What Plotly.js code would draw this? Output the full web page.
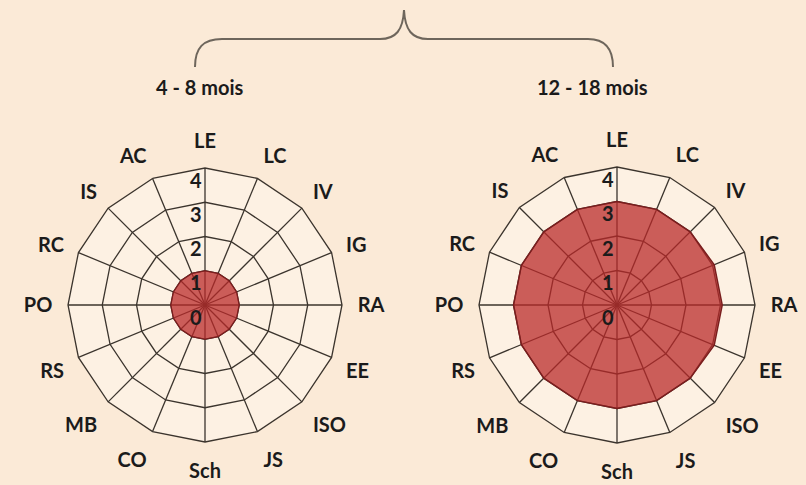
<!DOCTYPE html>
<html>
<head>
<meta charset="utf-8">
<script src="https://cdn.plot.ly/plotly-3.0.1.min.js"></script>
<style>html,body{margin:0;padding:0;background:#fbead7;}#chart{width:806px;height:485px;}</style>
</head>
<body>
<div id="chart"></div>
<script>
// Categories (clockwise from top)
const categories = ["LE","LC","IV","IG","RA","EE","ISO","JS","Sch","CO","MB","RS","PO","RC","IS","AC"];
// Scores 4 - 8 mois
const values_4_8 = [1,1,1,1,1,1,1,1,1,1,1,1,1,1,1,1];
// Scores 12 - 18 mois
const values_12_18 = [3,3,3,3.05,3.05,3.05,3,3,3,3,3,3,3,3,3,3];
const radialTicks = [0,1,2,3,4];
const groupLabels = ["4 - 8 mois", "12 - 18 mois"];

const W = 806, H = 485;
const px = x => x / W;
const py = y => 1 - y / H;

function closed(a){ return a.concat([a[0]]); }

const fillColor = 'rgba(185,40,40,0.74)';
const lineColor = '#7a1e1e';
const gridColor = '#3b342d';
const font = {family: 'Lato, "Open Sans", sans-serif', size: 20, color: '#1b1b1b', weight: 'bold'};
const tickFont = {family: 'Lato, "Open Sans", sans-serif', size: 20, color: '#1b1b1b', weight: 'bold'};

const traces = [
  {type:'scatterpolar', r: closed(values_4_8), theta: closed(categories), fill:'toself',
   fillcolor: fillColor, mode:'lines', line:{color:lineColor, width:1.2}, subplot:'polar', hoverinfo:'skip'},
  {type:'scatterpolar', r: closed(values_12_18), theta: closed(categories), fill:'toself',
   fillcolor: fillColor, mode:'lines', line:{color:lineColor, width:1.5}, subplot:'polar2', hoverinfo:'skip'}
];

function polarCfg(domain){
  return {
    domain: domain,
    bgcolor: '#fdf1e3',
    gridshape: 'linear',
    radialaxis: {
      range: [0,4], tickvals: radialTicks, ticktext: radialTicks.map(v => '<br>' + v),
      angle: 90, side: 'counterclockwise', showline: false, ticks: '',
      gridcolor: gridColor, gridwidth: 1.3, tickfont: tickFont, tickangle: 90
    },
    angularaxis: {
      categoryorder: 'array', categoryarray: categories,
      direction: 'clockwise', rotation: 90,
      showline: true, linecolor: gridColor, linewidth: 1.3,
      gridcolor: gridColor, gridwidth: 1.3,
      ticks: 'outside', ticklen: 11, tickcolor: 'rgba(0,0,0,0)',
      tickfont: font
    }
  };
}

const braceColor = '#6e665c';
const bracePath = [
  'M', px(195), py(67),
  'C', px(195), py(48), px(203), py(39), px(222), py(39),
  'L', px(380), py(39),
  'C', px(396), py(39), px(403), py(30), px(404), py(10),
  'C', px(405), py(30), px(412), py(39), px(428), py(39),
  'L', px(588), py(39),
  'C', px(605), py(39), px(613), py(48), px(613), py(67)
].join(' ');

const layout = {
  width: W, height: H,
  margin: {l:0, r:0, t:0, b:0},
  paper_bgcolor: '#fbead7',
  showlegend: false,
  polar: polarCfg({x:[px(68), px(342)], y:[py(442), py(168)]}),
  polar2: polarCfg({x:[px(479), px(755)], y:[py(443), py(167)]}),
  shapes: [{type:'path', xref:'paper', yref:'paper', path: bracePath,
            line:{color: braceColor, width: 2}}],
  annotations: [
    {text: groupLabels[0], xref:'paper', yref:'paper', x: px(200), y: py(87),
     showarrow:false, font: font, xanchor:'center', yanchor:'middle'},
    {text: groupLabels[1], xref:'paper', yref:'paper', x: px(592), y: py(87),
     showarrow:false, font: font, xanchor:'center', yanchor:'middle'}
  ]
};

Plotly.newPlot('chart', traces, layout, {staticPlot:true, displayModeBar:false});
</script>
</body>
</html>
